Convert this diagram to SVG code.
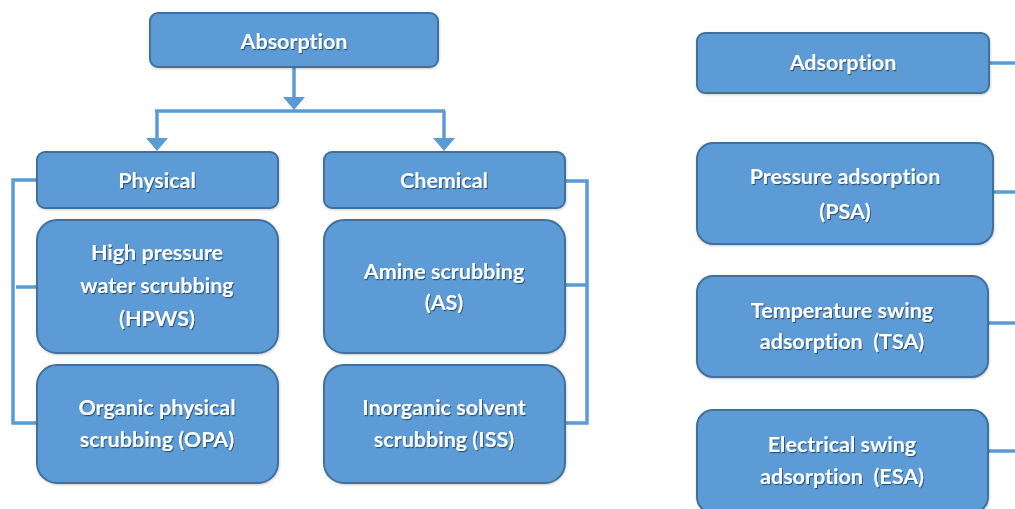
<svg xmlns="http://www.w3.org/2000/svg" width="1015" height="509" viewBox="0 0 1015 509">
<defs>
<filter id="ts" x="-10%" y="-30%" width="120%" height="160%">
<feDropShadow dx="1" dy="1.2" stdDeviation="0.7" flood-color="#000" flood-opacity="0.45"/>
</filter>
<filter id="bs" x="-5%" y="-5%" width="110%" height="115%">
<feDropShadow dx="0.5" dy="1" stdDeviation="0.8" flood-color="#000" flood-opacity="0.2"/>
</filter>
</defs>
<style>
.box{fill:#5B9BD5;stroke:#41719C;stroke-width:2;filter:url(#bs)}
.t{fill:#fff;font-family:Lato,"Open Sans","Liberation Sans",sans-serif;font-weight:bold;font-size:21.5px;text-anchor:middle;font-variant-ligatures:none;filter:url(#ts)}
.c{fill:none;stroke:#5B9BD5;stroke-width:3.5}
.h{fill:#5B9BD5}
</style>
<rect width="1015" height="509" fill="#fff"/>
<g id="connectors">
<path class="c" d="M294,67 V99"/>
<polygon class="h" points="283,97 305,97 294,110"/>
<path class="c" d="M155,111 H445"/>
<path class="c" d="M157,111 V140"/>
<polygon class="h" points="146,138 168,138 157,151"/>
<path class="c" d="M444,111 V140"/>
<polygon class="h" points="433,138 455,138 444,151"/>
<path class="c" d="M37,180 H13 V423 H37"/>
<path class="c" d="M16,287 H37"/>
<path class="c" d="M565,181 H587 V423 H565"/>
<path class="c" d="M565,285 H587"/>
<path class="c" d="M989,63 H1015"/>
<path class="c" d="M993,192 H1015"/>
<path class="c" d="M988,323 H1015"/>
<path class="c" d="M988,451 H1015"/>
</g>
<g id="absorption">
<rect class="box" x="150" y="13" width="288" height="54" rx="8"/>
<text class="t" x="294" y="49">Absorption</text>
</g>
<g id="physical">
<rect class="box" x="37" y="152" width="241" height="56" rx="8"/>
<text class="t" x="157" y="188">Physical</text>
</g>
<g id="hpws">
<rect class="box" x="37" y="220" width="241" height="133" rx="20"/>
<text class="t" x="157" y="260">High pressure</text>
<text class="t" x="157" y="293">water scrubbing</text>
<text class="t" x="157" y="326">(HPWS)</text>
</g>
<g id="opa">
<rect class="box" x="37" y="365" width="241" height="118" rx="20"/>
<text class="t" x="157" y="415">Organic physical</text>
<text class="t" x="157" y="447">scrubbing (OPA)</text>
</g>
<g id="chemical">
<rect class="box" x="324" y="152" width="241" height="56" rx="8"/>
<text class="t" x="444" y="188">Chemical</text>
</g>
<g id="as">
<rect class="box" x="324" y="220" width="241" height="133" rx="20"/>
<text class="t" x="444" y="279">Amine scrubbing</text>
<text class="t" x="444" y="310">(AS)</text>
</g>
<g id="iss">
<rect class="box" x="324" y="365" width="241" height="118" rx="20"/>
<text class="t" x="444" y="415">Inorganic solvent</text>
<text class="t" x="444" y="447">scrubbing (ISS)</text>
</g>
<g id="adsorption">
<rect class="box" x="697" y="33" width="292" height="60" rx="8"/>
<text class="t" x="843" y="70">Adsorption</text>
</g>
<g id="psa">
<rect class="box" x="697" y="143" width="296" height="101" rx="16"/>
<text class="t" x="845" y="184">Pressure adsorption</text>
<text class="t" x="845" y="219">(PSA)</text>
</g>
<g id="tsa">
<rect class="box" x="697" y="276" width="291" height="101" rx="16"/>
<text class="t" x="842" y="318">Temperature swing</text>
<text class="t" x="842" y="349" xml:space="preserve">adsorption  (TSA)</text>
</g>
<g id="esa">
<rect class="box" x="697" y="410" width="291" height="103" rx="16"/>
<text class="t" x="842" y="452">Electrical swing</text>
<text class="t" x="842" y="484" xml:space="preserve">adsorption  (ESA)</text>
</g>
</svg>
